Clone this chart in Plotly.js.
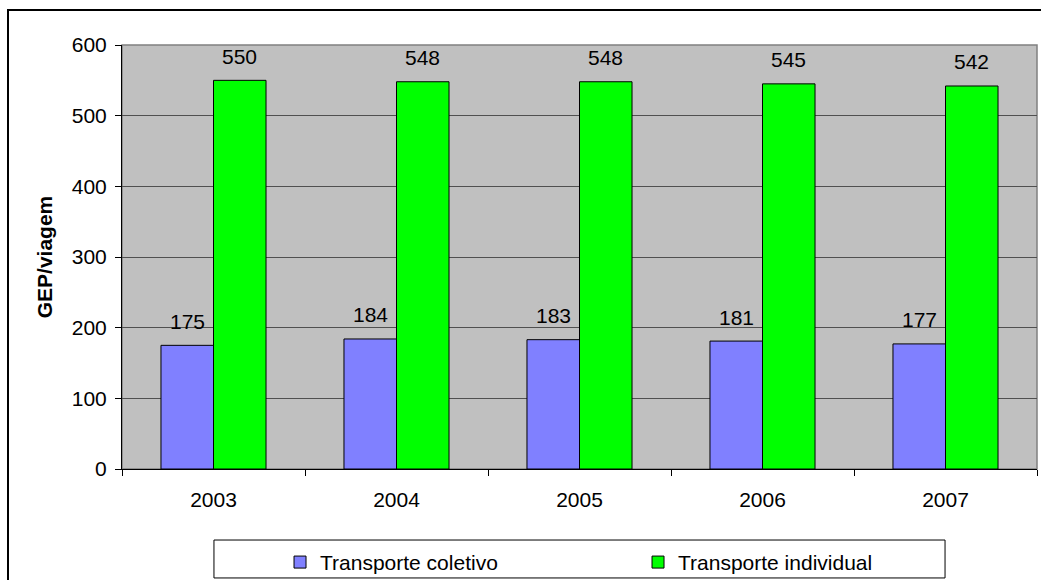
<!DOCTYPE html>
<html>
<head>
<meta charset="utf-8">
<script src="https://cdn.plot.ly/plotly-3.0.1.min.js"></script>
<style>
html,body{margin:0;padding:0;background:#fff;overflow:hidden;}
#frame{position:absolute;left:7px;top:9px;width:1100px;height:640px;border:2px solid #000;}
#chart{position:absolute;left:0;top:0;width:1041px;height:580px;}
</style>
</head>
<body>
<div id="frame"></div>
<div id="chart"></div>
<script>
const years = ['2003', '2004', '2005', '2006', '2007'];
const coletivo = [175, 184, 183, 181, 177];
const individual = [550, 548, 548, 545, 542];
const seriesNames = ['Transporte coletivo', 'Transporte individual'];
const yTicks = [0, 100, 200, 300, 400, 500, 600];

const FONT = 'Liberation Sans, Arial, sans-serif';
const FS = 21;

const traces = [
  {type: 'bar', name: seriesNames[0], x: years, y: coletivo,
   marker: {color: '#8080FF', line: {color: '#000', width: 1}}, hoverinfo: 'none'},
  {type: 'bar', name: seriesNames[1], x: years, y: individual,
   marker: {color: '#00FF00', line: {color: '#000', width: 1}}, hoverinfo: 'none'}
];

const annotations = [];
[coletivo, individual].forEach((vals, si) => {
  vals.forEach((v, i) => {
    annotations.push({x: i, y: v, text: String(v), showarrow: false,
      xshift: si === 0 ? -26 : 26, yshift: 24, yanchor: 'middle',
      font: {family: FONT, size: FS, color: '#000'}});
  });
});

const layout = {
  width: 1041, height: 580,
  margin: {l: 122, r: 4, t: 45, b: 111, autoexpand: false},
  paper_bgcolor: 'rgba(0,0,0,0)',
  plot_bgcolor: '#C0C0C0',
  font: {family: FONT, size: FS, color: '#000'},
  barmode: 'group', bargap: 0.426, bargroupgap: 0,
  showlegend: true,
  legend: {orientation: 'h', x: 0.1727, xanchor: 'left', y: -0.172, yanchor: 'top',
    entrywidth: 313, font: {family: FONT, size: FS}, bgcolor: 'rgba(0,0,0,0)'},
  xaxis: {type: 'category', range: [-0.5, years.length - 0.5], autorange: false,
    showline: true, linecolor: '#000', linewidth: 1,
    ticks: 'outside', tickson: 'boundaries', ticklen: 6, tickcolor: '#000',
    ticklabelstandoff: 12, showgrid: false, fixedrange: true, tickangle: 0, automargin: false},
  yaxis: {range: [0, 600], autorange: false, tickvals: yTicks, showline: true, linecolor: '#000', linewidth: 1,
    ticks: 'outside', ticklen: 6, tickcolor: '#000', showgrid: true, gridcolor: '#505050',
    gridwidth: 1, zeroline: false, automargin: false, ticklabelstandoff: 4,
    title: {text: '<b>GEP/viagem</b>', standoff: 13, font: {family: FONT, size: FS}}},
  shapes: [
    {type: 'rect', xref: 'paper', yref: 'paper', x0: 0, x1: 1, y0: 0, y1: 1,
     line: {color: '#808080', width: 1.5}, layer: 'between'},
    {type: 'rect', xref: 'paper', yref: 'paper', x0: 0.1005, x1: 0.8995, y0: -0.257, y1: -0.1675,
     line: {color: '#000', width: 1}, fillcolor: 'rgba(0,0,0,0)'}
  ],
  annotations: annotations
};

Plotly.newPlot('chart', traces, layout, {staticPlot: true, displayModeBar: false});
</script>
</body>
</html>
